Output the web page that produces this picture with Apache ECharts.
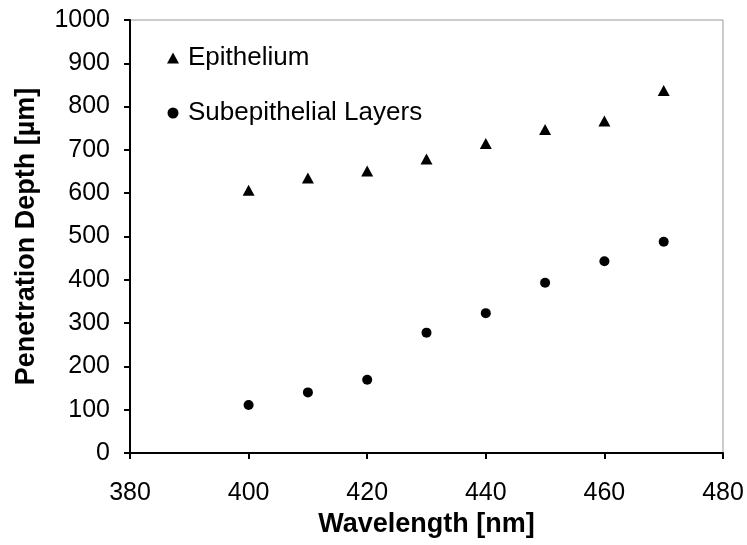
<!DOCTYPE html>
<html>
<head>
<meta charset="utf-8">
<script src="https://cdn.jsdelivr.net/npm/echarts@6/dist/echarts.min.js"></script>
<style>html,body{margin:0;padding:0;background:#fff;}#c{width:747px;height:545px;}</style>
</head>
<body>
<div id="c"></div>
<script>
var wavelengths = [400, 410, 420, 430, 440, 450, 460, 470];
var epithelium = [607, 635, 651, 679, 715, 747, 767, 837];
var subepithelial = [111, 140, 169, 278, 323, 393, 443, 488];
var seriesNames = ['Epithelium', 'Subepithelial Layers'];
var xTitle = 'Wavelength [nm]';
var yTitle = 'Penetration Depth [µm]';

function pairs(xs, ys) { return xs.map(function (x, i) { return [x, ys[i]]; }); }

var font = 'Arial, "Liberation Sans", sans-serif';
var chart = echarts.init(document.getElementById('c'), null, {renderer: 'canvas'});
chart.setOption({
  animation: false,
  backgroundColor: '#fff',
  grid: {left: 130, right: 24, top: 20, bottom: 92, show: true, borderColor: '#999', borderWidth: 1, backgroundColor: 'transparent'},
  legend: {
    orient: 'vertical', left: 162, top: 40, itemGap: 29, itemWidth: 12, itemHeight: 11,
    textStyle: {fontFamily: font, fontSize: 26, color: '#000', padding: [0, 0, 0, 4]},
    data: [{name: seriesNames[0], icon: 'triangle'}, {name: seriesNames[1], icon: 'circle'}]
  },
  xAxis: {
    type: 'value', min: 380, max: 480, interval: 20,
    name: xTitle, nameLocation: 'middle', nameGap: 54,
    nameTextStyle: {fontFamily: font, fontSize: 27, fontWeight: 'bold', color: '#000'},
    axisLine: {show: true, onZero: false, lineStyle: {color: '#000', width: 2}},
    axisTick: {show: true, length: 6, lineStyle: {color: '#000', width: 2}},
    axisLabel: {fontFamily: font, fontSize: 25, color: '#000', margin: 28, formatter: function (v) { return String(v); }},
    splitLine: {show: false}
  },
  yAxis: {
    type: 'value', min: 0, max: 1000, interval: 100,
    name: yTitle, nameLocation: 'middle', nameGap: 90,
    nameTextStyle: {fontFamily: font, fontSize: 27, fontWeight: 'bold', color: '#000'},
    axisLine: {show: true, onZero: false, lineStyle: {color: '#000', width: 2}},
    axisTick: {show: true, length: 6, lineStyle: {color: '#000', width: 2}},
    axisLabel: {fontFamily: font, fontSize: 25, color: '#000', margin: 20, formatter: function (v) { return String(v); }},
    splitLine: {show: false}
  },
  series: [
    {name: seriesNames[0], type: 'scatter', symbol: 'triangle', symbolSize: [12, 11],
     itemStyle: {color: '#000', opacity: 1}, data: pairs(wavelengths, epithelium)},
    {name: seriesNames[1], type: 'scatter', symbol: 'circle', symbolSize: 10,
     itemStyle: {color: '#000', opacity: 1}, data: pairs(wavelengths, subepithelial)}
  ]
});
</script>
</body>
</html>
